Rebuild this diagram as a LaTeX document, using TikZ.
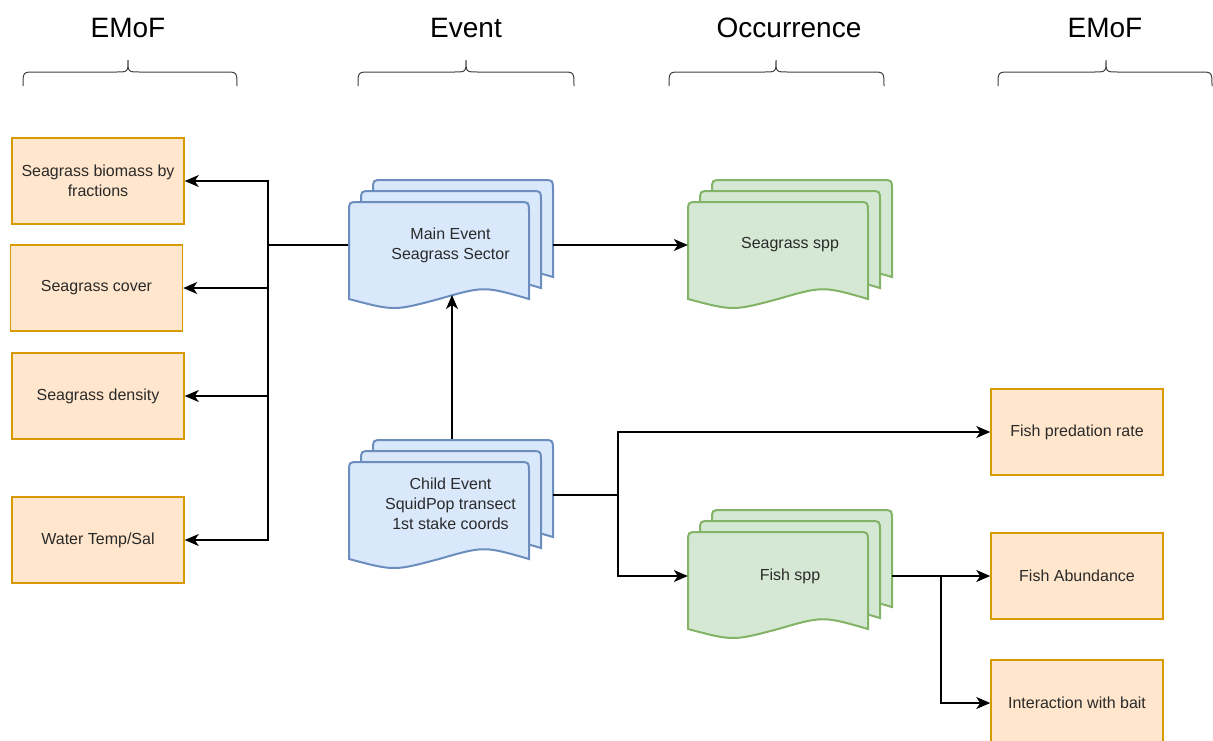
\documentclass[tikz,border=0pt]{standalone}
\usepackage{fontspec}
\setmainfont{Liberation Sans}
\usetikzlibrary{arrows.meta}
\definecolor{bfill}{HTML}{DAE8FC}
\definecolor{bdraw}{HTML}{6C8EBF}
\definecolor{gfill}{HTML}{D5E8D4}
\definecolor{gdraw}{HTML}{82B366}
\definecolor{ofill}{HTML}{FFE6CC}
\definecolor{odraw}{HTML}{D79B00}
\definecolor{txt}{HTML}{2A2A2A}
\newcommand\docstack[3]{%
  \foreach \dx/\dy in {24/-22,12/-11,0/0}{%
    \begin{scope}[shift={(#1+\dx,#2+\dy)}]
      \path[#3] (0,97) -- (0,10) .. controls (0,0) .. (10,0) -- (170,0)
        .. controls (180,0) .. (180,10) -- (180,97)
        .. controls (135,84) .. (90,97) .. controls (45,109) .. (0,97) -- cycle;
    \end{scope}}}
\newcommand\curlybrace[3]{%
  \draw[bracestyle] (#1,86) .. controls (#1,72) .. (#1+12,72) -- (#3-12,72)
    .. controls (#3,72) .. (#3,60) .. controls (#3,72) .. (#3+12,72)
    -- (#2-12,72) .. controls (#2,72) .. (#2,86);}
\begin{document}
\begin{tikzpicture}[x=1pt,y=-1pt,
  lbl/.style={text=txt,font=\fontsize{16}{20}\selectfont,align=center,inner sep=0pt},
  head/.style={font=\fontsize{28}{32}\selectfont,anchor=base,inner sep=0pt},
  obox/.style={draw=odraw,fill=ofill,line width=1.5pt,minimum width=172pt,minimum height=86pt,
    text=txt,font=\fontsize{16}{20}\selectfont,align=center,inner sep=0pt},
  bstack/.style={draw=bdraw,fill=bfill,line width=2pt},
  gstack/.style={draw=gdraw,fill=gfill,line width=2pt},
  bracestyle/.style={draw=black!75,line width=1pt},
  arr/.style={draw=black,line width=1.3pt,-{Stealth[length=14pt,width=12pt,inset=4pt]}},
  ln/.style={draw=black,line width=1.3pt}]
\useasboundingbox (0,0) rectangle (1213,740);

% headings
\node[head] (h1) at (128,37) {EMoF};
\node[head] (h2) at (466,37) {Event};
\node[head] (h3) at (789,37) {Occurrence};
\node[head] (h4) at (1105,37) {EMoF};
\curlybrace{23}{237}{128}
\curlybrace{358}{574}{466}
\curlybrace{669}{884}{776}
\curlybrace{998}{1212}{1106}

% stacks
\docstack{349}{202}{bstack}
\docstack{349}{462}{bstack}
\docstack{688}{202}{gstack}
\docstack{688}{532}{gstack}
\node[lbl,minimum width=204pt] (main) at (450.5,245) {Main Event\\Seagrass Sector};
\node[lbl,minimum width=204pt] (child) at (450.5,504) {Child Event\\SquidPop transect\\1st stake coords};
\node[lbl,minimum width=204pt] (sgspp) at (790,245) {Seagrass spp};
\node[lbl,minimum width=204pt] (fish) at (790,576) {Fish spp};

% boxes
\node[obox] (b1) at (98,181) {Seagrass biomass by\\fractions};
\node[obox] (b2) at (96.5,288) {Seagrass cover};
\node[obox] (b3) at (98,396) {Seagrass density};
\node[obox] (b4) at (98,540) {Water Temp/Sal};
\node[obox] (r1) at (1077,432) {Fish predation rate};
\node[obox] (r2) at (1077,576) {Fish Abundance};
\node[obox] (r3) at (1077,703) {Interaction with bait};

% coordinates
\coordinate (busL) at (268,245);
\coordinate (childE) at (553,495);
\coordinate (busC) at (618,495);
\coordinate (busF) at (941,576);
\coordinate (childT) at (452,439);
\coordinate (mainB) at (452,295);

% connectors
\draw[ln] (main.west) -- (busL);
\draw[arr] (busL) |- (b1.east);
\draw[arr] (busL) |- (b2.east);
\draw[arr] (busL) |- (b3.east);
\draw[arr] (busL) |- (b4.east);
\draw[arr] (main.east) -- (sgspp.west);
\draw[arr] (childT) -- (mainB);
\draw[ln] (childE) -- (busC);
\draw[arr] (busC) |- (r1.west);
\draw[arr] (busC) |- (fish.west);
\draw[arr] (fish.east) -- (r2.west);
\draw[arr] (busF) |- (r3.west);
\end{tikzpicture}
\end{document}
